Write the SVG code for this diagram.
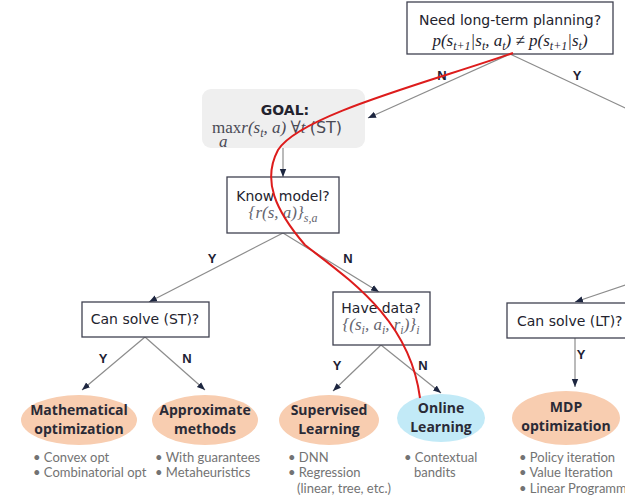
<svg xmlns="http://www.w3.org/2000/svg" width="625" height="502" viewBox="0 0 625 502">
  <defs>
    <marker id="arrow" viewBox="0 0 8 8" refX="8" refY="4" markerWidth="8" markerHeight="8" markerUnits="userSpaceOnUse" orient="auto">
      <path d="M0,0.8 L8,4 L0,7.2 Z" fill="#1d2640"/>
    </marker>
    <style>
      .box { fill: #ffffff; stroke: #3f4150; stroke-width: 1.3; }
      .goal { fill: #efefef; stroke: none; }
      .txt { font-family: "DejaVu Sans", "Noto Sans", sans-serif; font-size: 14px; fill: #23232e; }
      .math { font-family: "Liberation Serif", "DejaVu Serif", serif; font-style: italic; font-size: 17px; }
      .sub { font-size: 12px; }
      .edge { stroke: #8c8c8c; stroke-width: 1.2; fill: none; }
      .lbl { font-family: "Liberation Sans", Arial, sans-serif; font-weight: bold; font-size: 13px; fill: #1d2233; text-anchor: middle; }
      .peach { fill: #f8cdb0; }
      .blue { fill: #c2eaf7; }
      .etxt { font-family: "Open Sans", "Noto Sans", sans-serif; font-weight: bold; font-size: 14px; fill: #2a2a36; text-anchor: middle; }
      .bul { font-family: Lato, "Open Sans", sans-serif; font-size: 13px; fill: #737373; }
      .path { stroke: #dd1c1c; stroke-width: 2; fill: none; }
    </style>
  </defs>
  <rect width="625" height="502" fill="#ffffff"/>

  <!-- connectors -->
  <g id="connectors">
    <path class="edge" d="M510,54 L368,118" marker-end="url(#arrow)"/>
    <path class="edge" d="M510,54 L640,115"/>
    <path class="edge" d="M640,280 L575,302" marker-end="url(#arrow)"/>
    <path class="edge" d="M575,338 L575,387" marker-end="url(#arrow)"/>
    <path class="edge" d="M283,148 L283,177" marker-end="url(#arrow)"/>
    <path class="edge" d="M283,233 L149,302" marker-end="url(#arrow)"/>
    <path class="edge" d="M283,233 L379,292" marker-end="url(#arrow)"/>
    <path class="edge" d="M145,337 L82,390" marker-end="url(#arrow)"/>
    <path class="edge" d="M145,337 L205,390" marker-end="url(#arrow)"/>
    <path class="edge" d="M381,345 L333,391" marker-end="url(#arrow)"/>
    <path class="edge" d="M381,345 L441,393" marker-end="url(#arrow)"/>
    <text class="lbl" x="442" y="80">N</text>
    <text class="lbl" x="577" y="80">Y</text>
    <text class="lbl" x="212" y="263">Y</text>
    <text class="lbl" x="348" y="263">N</text>
    <text class="lbl" x="103" y="363">Y</text>
    <text class="lbl" x="187" y="363">N</text>
    <text class="lbl" x="337" y="370">Y</text>
    <text class="lbl" x="423" y="370">N</text>
    <text class="lbl" x="581" y="359">Y</text>
  </g>

  <!-- decision: long-term planning -->
  <g id="need-planning">
    <rect class="box" x="407" y="2" width="206" height="52"/>
    <text class="txt" x="510" y="25" text-anchor="middle" font-size="15">Need long-term planning?</text>
    <text class="math" x="510" y="46" text-anchor="middle" fill="#23232e" font-size="18">p(s<tspan class="sub" dy="4">t+1</tspan><tspan dy="-4">|s</tspan><tspan class="sub" dy="4">t</tspan><tspan dy="-4">, a</tspan><tspan class="sub" dy="4">t</tspan><tspan dy="-4">) ≠ p(s</tspan><tspan class="sub" dy="4">t+1</tspan><tspan dy="-4">|s</tspan><tspan class="sub" dy="4">t</tspan><tspan dy="-4">)</tspan></text>
  </g>

  <!-- short-term goal -->
  <g id="goal">
    <rect class="goal" x="202" y="89" width="163" height="59" rx="9"/>
    <text class="txt" x="285" y="115" text-anchor="middle" font-weight="bold" font-size="15">GOAL:</text>
    <text fill="#4a4a55"><tspan class="math" font-size="11" x="219" y="147">a</tspan><tspan x="212" y="133" font-family="Liberation Serif, serif" font-size="17">max</tspan><tspan class="math" font-size="18">r(s</tspan><tspan class="math sub" dy="4">t</tspan><tspan class="math" font-size="18" dy="-4">, a) ∀t </tspan><tspan font-family="DejaVu Sans, sans-serif" font-size="16">(ST)</tspan></text>
  </g>

  <!-- decision: model known -->
  <g id="know-model">
    <rect class="box" x="227" y="177" width="112" height="56"/>
    <text class="txt" x="283" y="201" text-anchor="middle">Know model?</text>
    <text class="math" x="283" y="218" text-anchor="middle" fill="#666670" font-size="18">{r(s, a)}<tspan class="sub" dy="4">s,a</tspan></text>
  </g>

  <!-- decision: solvable short-term -->
  <g id="can-solve-st">
    <rect class="box" x="82" y="302" width="127" height="35"/>
    <text class="txt" x="145" y="324" text-anchor="middle">Can solve (ST)?</text>
  </g>

  <!-- decision: data available -->
  <g id="have-data">
    <rect class="box" x="333" y="292" width="97" height="53"/>
    <text class="txt" x="381" y="313" text-anchor="middle">Have data?</text>
    <text class="math" x="381" y="330" text-anchor="middle" fill="#666670" font-size="18">{(s<tspan class="sub" dy="4">i</tspan><tspan dy="-4">, a</tspan><tspan class="sub" dy="4">i</tspan><tspan dy="-4">, r</tspan><tspan class="sub" dy="4">i</tspan><tspan dy="-4">)}</tspan><tspan class="sub" dy="4">i</tspan></text>
  </g>

  <!-- decision: solvable long-term -->
  <g id="can-solve-lt">
    <rect class="box" x="507" y="303" width="140" height="35"/>
    <text class="txt" x="517" y="326">Can solve (LT)?</text>
  </g>

  <!-- outcomes -->
  <g id="math-opt">
    <ellipse class="peach" cx="79" cy="420" rx="58" ry="25"/>
    <text class="etxt" x="79" y="415">Mathematical</text>
    <text class="etxt" x="79" y="434">optimization</text>
    <text class="bul" x="33" y="462">• Convex opt</text>
    <text class="bul" x="33" y="477">• Combinatorial opt</text>
  </g>

  <g id="approx">
    <ellipse class="peach" cx="205" cy="420" rx="53" ry="25"/>
    <text class="etxt" x="205" y="415">Approximate</text>
    <text class="etxt" x="205" y="434">methods</text>
    <text class="bul" x="155" y="462">• With guarantees</text>
    <text class="bul" x="155" y="477">• Metaheuristics</text>
  </g>

  <g id="supervised">
    <ellipse class="peach" cx="329" cy="420" rx="50" ry="25"/>
    <text class="etxt" x="329" y="415">Supervised</text>
    <text class="etxt" x="329" y="434">Learning</text>
    <text class="bul" x="288" y="462">• DNN</text>
    <text class="bul" x="288" y="477">• Regression</text>
    <text class="bul" x="297" y="493">(linear, tree, etc.)</text>
  </g>

  <g id="online">
    <ellipse class="blue" cx="441" cy="418" rx="44" ry="24"/>
    <text class="etxt" x="441" y="413">Online</text>
    <text class="etxt" x="441" y="432">Learning</text>
    <text class="bul" x="404" y="462">• Contextual</text>
    <text class="bul" x="414" y="477">bandits</text>
  </g>

  <g id="mdp">
    <ellipse class="peach" cx="566" cy="418" rx="54" ry="27"/>
    <text class="etxt" x="566" y="412">MDP</text>
    <text class="etxt" x="566" y="431">optimization</text>
    <text class="bul" x="519" y="462">• Policy iteration</text>
    <text class="bul" x="519" y="477">• Value Iteration</text>
    <text class="bul" x="519" y="493">• Linear Programming</text>
  </g>

  <!-- highlighted route -->
  <g id="route">
    <path class="path" d="M513,53 C430,82 300,115 278,150 C262,180 275,210 305,245 C350,280 410,320 420,398"/>
  </g>
</svg>
